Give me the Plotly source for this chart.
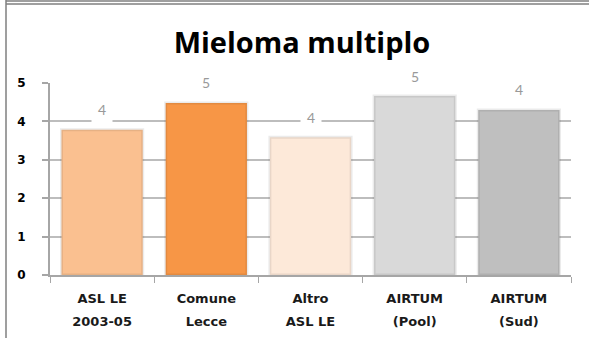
import plotly.graph_objects as go

categories = ["ASL LE<br>2003-05", "Comune<br>Lecce", "Altro<br>ASL LE", "AIRTUM<br>(Pool)", "AIRTUM<br>(Sud)"]
values = [3.78, 4.48, 3.59, 4.66, 4.30]
labels = ["4", "5", "4", "5", "4"]
colors = ["#FAC090", "#F79646", "#FDE9D9", "#D9D9D9", "#BFBFBF"]
y_ticks = [0, 1, 2, 3, 4, 5]

W, H = 589, 338
L, R, T, B = 50, 18, 83, 63
pw, ph = W - L - R, H - T - B

def px(x):
    return (x - L) / pw

def py(y):
    return (H - B - y) / ph

tick_text = ["<br>".join("<span style='font-size:13px'>%s</span>" % part for part in c.split("<br>"))
             for c in categories]

fig = go.Figure()
fig.add_trace(go.Bar(
    x=categories, y=values,
    marker=dict(color=colors, line=dict(color="rgba(0,0,0,0.08)", width=3)),
    hoverinfo="skip",
))

for c, v, t in zip(categories, values, labels):
    fig.add_annotation(x=c, y=v, text=t, showarrow=False, yanchor="middle", yshift=20,
                       bgcolor="white", borderpad=6,
                       font=dict(family="Lato, DejaVu Sans", size=14, color="#999999"))

# outer frame lines
fig.add_shape(type="line", xref="paper", yref="paper", x0=px(6), x1=px(600), y0=py(4), y1=py(4),
              line=dict(color="#7f7f7f", width=1.5))
fig.add_shape(type="line", xref="paper", yref="paper", x0=px(6), x1=px(600), y0=py(1), y1=py(1),
              line=dict(color="#7f7f7f", width=1.5))
fig.add_shape(type="line", xref="paper", yref="paper", x0=px(6), x1=px(6), y0=py(-2), y1=py(340),
              line=dict(color="#7f7f7f", width=1.5))

fig.update_layout(
    width=W, height=H,
    margin=dict(l=L, r=R, t=T, b=B, autoexpand=False),
    paper_bgcolor="white", plot_bgcolor="white",
    showlegend=False,
    bargap=0.22,
    title=dict(text="<b>Mieloma multiplo</b>", x=302 / W, xanchor="center", y=1 - 43 / H, yanchor="middle",
               font=dict(family="Open Sans, DejaVu Sans", size=29, color="black")),
    xaxis=dict(type="category", showline=True, linecolor="#a6a6a6", linewidth=2,
               tickvals=categories, ticktext=tick_text,
               ticks="outside", tickson="boundaries", ticklen=6, tickcolor="#a6a6a6", tickwidth=1,
               ticklabelstandoff=6,
               tickfont=dict(family="DejaVu Sans", size=17, color="#1a1a1a", weight="bold"),
               showgrid=False),
    yaxis=dict(range=[0, 5], tickvals=y_ticks, showline=True, linecolor="#a6a6a6", linewidth=2,
               ticks="outside", ticklen=6, tickcolor="#a6a6a6", tickwidth=2,
               ticklabelstandoff=14,
               tickfont=dict(family="DejaVu Sans", size=12, color="black", weight="bold"),
               showgrid=True, gridcolor="#bdbdbd", gridwidth=2, zeroline=False),
)

fig.write_html("out.html", config={"displayModeBar": False},
               post_script="document.body.style.margin='0';document.body.style.overflow='hidden';")
